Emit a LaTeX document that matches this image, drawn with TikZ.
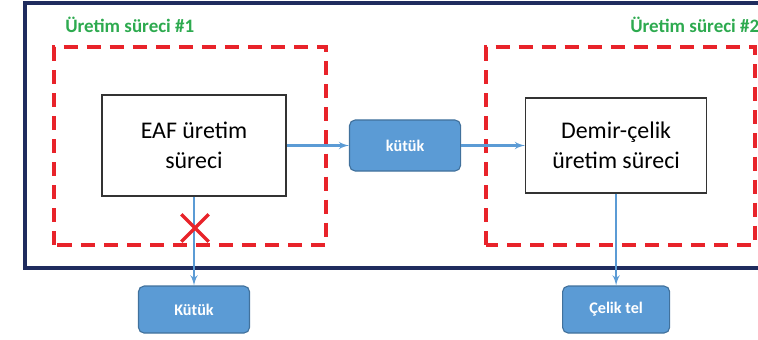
\documentclass[tikz,border=0pt]{standalone}
\usepackage{fontspec}
\setmainfont{Carlito}
\usetikzlibrary{positioning}
\usetikzlibrary{shapes, arrows}
\definecolor{frameblue}{HTML}{1F2C5E}
\definecolor{boxblue}{HTML}{5B9BD5}
\definecolor{edgeblue}{HTML}{41719C}
\definecolor{dashred}{HTML}{E8232A}
\definecolor{labelgreen}{HTML}{2DAA4F}

\begin{document}
\begin{tikzpicture}[x=0.025cm, y=-0.025cm, node distance = 5.275cm, auto]
    \tikzstyle{process} = [rectangle, draw=black!80, fill=white, line width=0.9pt,
    font=\fontsize{17}{21}\selectfont, align=center, inner sep=0pt]
    \tikzstyle{product} = [rectangle, draw=edgeblue, fill=boxblue, rounded corners=4pt, text=white,
    font=\bfseries\fontsize{11.5}{14}\selectfont, minimum width=2.775cm, minimum height=1.175cm, line width=0.8pt]
    \tikzstyle{line} = [draw, boxblue, line width=1.5pt, -latex']
    \tikzstyle{group} = [draw, dashred, line width=2.6pt, dash pattern=on 10pt off 6.4pt]
    \tikzstyle{title} = [text=labelgreen, font=\bfseries\fontsize{13.5}{16}\selectfont, anchor=west, inner sep=0pt]
    \useasboundingbox (0,0) rectangle (758,340);
    \clip (0,0) rectangle (758,340);
    % frame and the two process groups
    \draw [frameblue, line width=2.4pt] (790,3) -- (25,3) -- (25,268) -- (790,268);
    \path [group] (54,245) -- (54,47) -- (326,47) -- (326,245) -- cycle;
    \path [group] (486,245) -- (486,47) -- (755,47) -- (755,245) -- cycle;
    \node [title] (title1) at (65,25) {Üretim süreci \#1};
    \node [title] (title2) at (630,25) {Üretim süreci \#2};
    % processes and products
    \node [process, minimum width=4.6cm, minimum height=2.525cm] (eaf) at (194,145.5) {EAF üretim\\süreci};
    \node [product, right of=eaf, minimum height=1.275cm] (billet) {kütük};
    \node [process, right of=billet, minimum width=4.525cm, minimum height=2.375cm] (steel) {Demir-çelik\\üretim süreci};
    \node [product, below of=eaf, node distance = 4.1cm] (billetout) {Kütük};
    \node [product, below of=steel, node distance = 4.1cm, minimum width=2.675cm] (wire) {Çelik tel};
    \path [line] (eaf) -- (billet);
    \path [line] (billet) -- (steel);
    \path [line] (eaf) -- (billetout);
    \path [line] (steel) -- (wire);
    \node [cross out, draw=dashred, line width=2.4pt, minimum size=0.6cm, inner sep=0pt] (cut) at (195,228) {};
\end{tikzpicture}
\end{document}
